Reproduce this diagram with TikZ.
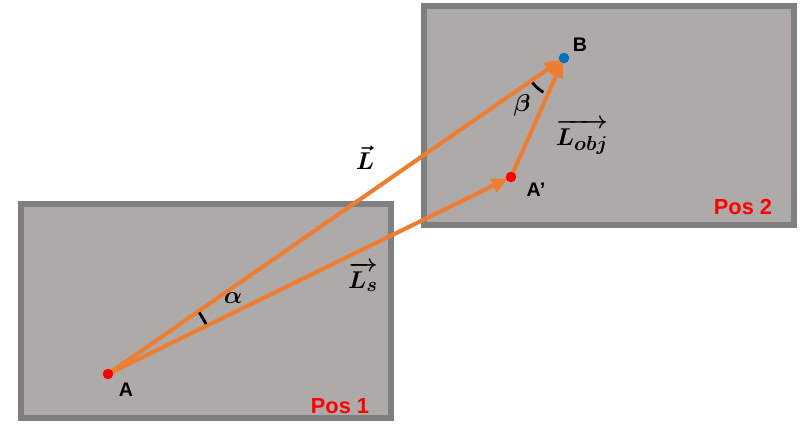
\documentclass[tikz,border=0pt]{standalone}
\usepackage{amsmath, amssymb}
\usepackage{fontspec}
\setsansfont{Liberation Sans}
\usetikzlibrary{positioning, arrows.meta, calc}

\definecolor{boxfill}{HTML}{AEAAAA}
\definecolor{boxedge}{HTML}{7F7F7F}
\definecolor{vecorange}{HTML}{ED7D31}
\definecolor{ptblue}{HTML}{0070C0}

\begin{document}
\begin{tikzpicture}[
  x=0.025cm, y=0.025cm,
  posbox/.style={fill=boxfill, draw=boxedge, line width=4.3pt},
  vec/.style={vecorange, line width=2.9pt, -{Triangle[length=12pt, width=10pt]}, shorten >=2pt},
  pt/.style={circle, inner sep=0pt, minimum size=7.5pt},
  ptlabel/.style={font=\sffamily\bfseries\fontsize{14}{16}\selectfont},
  poslabel/.style={font=\sffamily\bfseries\fontsize{15.5}{18}\selectfont, text=red},
  mlabel/.style={font=\boldmath\fontsize{19}{22}\selectfont},
  angarc/.style={black, line width=2pt},
]
  \useasboundingbox (0,0) rectangle (800,423);

  % Positions
  \draw[posbox] (21,5) rectangle (391,219);
  \draw[posbox] (424,198) rectangle (794,417);
  \node[poslabel] (p1) at (340,17) {Pos 1};
  \node[poslabel] (p2) at (743,216) {Pos 2};

  % Points
  \coordinate (A) at (108,49);
  \coordinate (B) at (564,365);
  \coordinate (Ap) at (511,246);

  % Vectors
  \draw[vec] (A) -- (B);
  \draw[vec] (A) -- (Ap);
  \draw[vec] (Ap) -- (B);

  % Angles
  \draw[angarc] ([shift={(27:110)}]A) arc[start angle=27, end angle=34, radius=110];
  \draw[angarc] ([shift={(218:40)}]B) arc[start angle=218, end angle=239, radius=40];

  \node[pt, fill=red] (a) at (A) {};
  \node[pt, fill=red] (ap) at (Ap) {};
  \node[pt, fill=ptblue] (b) at (B) {};

  % Labels
  \node[ptlabel] (la) at (126,33) {A};
  \node[ptlabel] (lb) at (580,378) {B};
  \node[ptlabel] (lap) at (536,233) {A’};
  \node[mlabel] (lalpha) at (233,125) {$\alpha$};
  \node[mlabel] (lbeta) at (522,318) {$\beta$};
  \node[mlabel] (lL) at (365,265) {$\vec{L}$};
  \node[mlabel] (lLs) at (363,146) {$\overrightarrow{L_s}$};
  \node[mlabel] (lLobj) at (582,286) {$\overrightarrow{L_{obj}}$};

\end{tikzpicture}
\end{document}
